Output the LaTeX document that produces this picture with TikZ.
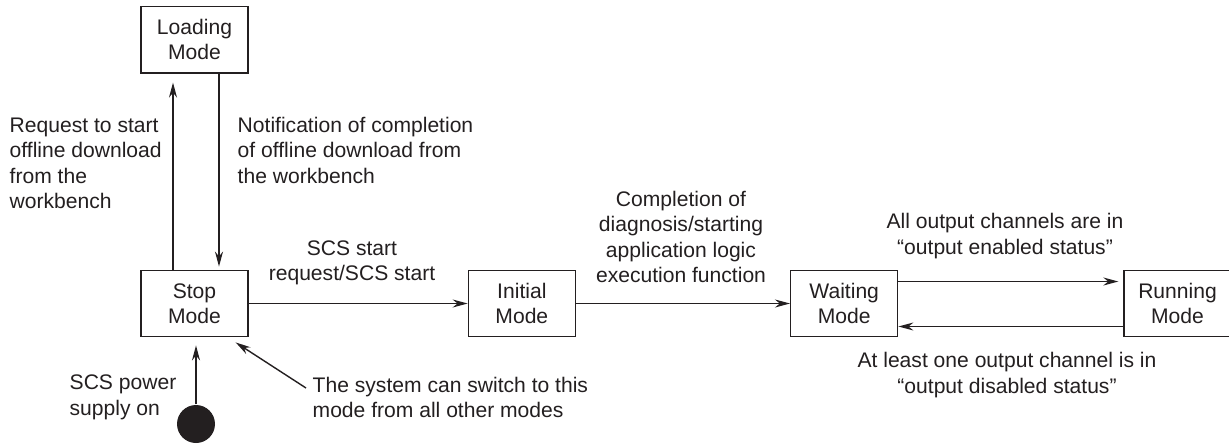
\documentclass[tikz,border=0pt]{standalone}
\usepackage{fontspec}
\setmainfont{Liberation Sans}
\usepackage{tikz}
\usetikzlibrary{arrows.meta, positioning, calc}
\usepackage{xcolor}
\definecolor{Ink}{HTML}{231F20}
\newcommand{\lab}{\fontsize{12}{14.5}\selectfont}

\begin{document}
\begin{tikzpicture}[>={Stealth[length=3mm, width=1.6mm]}, x=0.02cm, y=-0.02cm,
    font=\lab, color=Ink, line width=0.8pt]
  \tikzset{mode/.style={draw=Ink, minimum width=2.14cm, minimum height=1.33cm,
      align=center, inner sep=0pt},
    lbl/.style={inner sep=0pt, align=center}}
  \useasboundingbox (0,0) rectangle (1229,443);
  % states
  \node[mode] (stop) at (194.5,303.5) {Stop\\Mode};
  \node[mode, above=3.92cm of stop] (load) {Loading\\Mode};
  \node[mode, right=4.38cm of stop] (init) {Initial\\Mode};
  \node[mode, right=4.28cm of init] (wait) {Waiting\\Mode};
  \node[mode, right=4.5cm of wait] (run) {Running\\Mode};
  \node[circle, fill=Ink, minimum size=0.76cm, inner sep=0pt] (on) at (196,424) {};
  % labels
  \node[lbl, align=left, anchor=west] (req) at (9,163.5)
    {Request to start\\offline download\\from the\\workbench};
  \node[lbl, align=left, anchor=west] (note) at (237,150)
    {Notification of completion\\of offline download from\\the workbench};
  \node[lbl] (scs) at (352,263) {SCS start\\request/SCS start};
  \node[lbl] (diag) at (681,237)
    {Completion of\\diagnosis/starting\\application logic\\execution function};
  \node[lbl] (enab) at (1005,236) {All output channels are in\\“output enabled status”};
  \node[lbl] (disab) at (1007,375) {At least one output channel is in\\“output disabled status”};
  \node[lbl, align=left, anchor=west] (pow) at (69,397.5) {SCS power\\supply on};
  \node[lbl, align=left, anchor=west] (sys) at (312,397.5)
    {The system can switch to this\\mode from all other modes};
  \coordinate (sysfrom) at (306,388);
  % transitions
  \draw[->, shorten >=0.18cm] ([xshift=-0.43cm]stop.north) -- ([xshift=-0.43cm]load.south);
  \draw[->, shorten >=0.06cm] ([xshift=0.49cm]load.south) -- ([xshift=0.49cm]stop.north);
  \draw[->] (stop) -- (init);
  \draw[->] (init) -- (wait);
  \draw[->, shorten >=0.1cm] ([yshift=0.44cm]wait.east) -- ([yshift=0.44cm]run.west);
  \draw[->] ([yshift=-0.46cm]run.west) -- ([yshift=-0.46cm]wait.east);
  \draw[->, shorten >=0.16cm] (on) -- (on |- stop.south);
  \draw[->] (sysfrom) -- ([shift={(-0.26cm,-0.1cm)}]stop.south east);
\end{tikzpicture}
\end{document}
